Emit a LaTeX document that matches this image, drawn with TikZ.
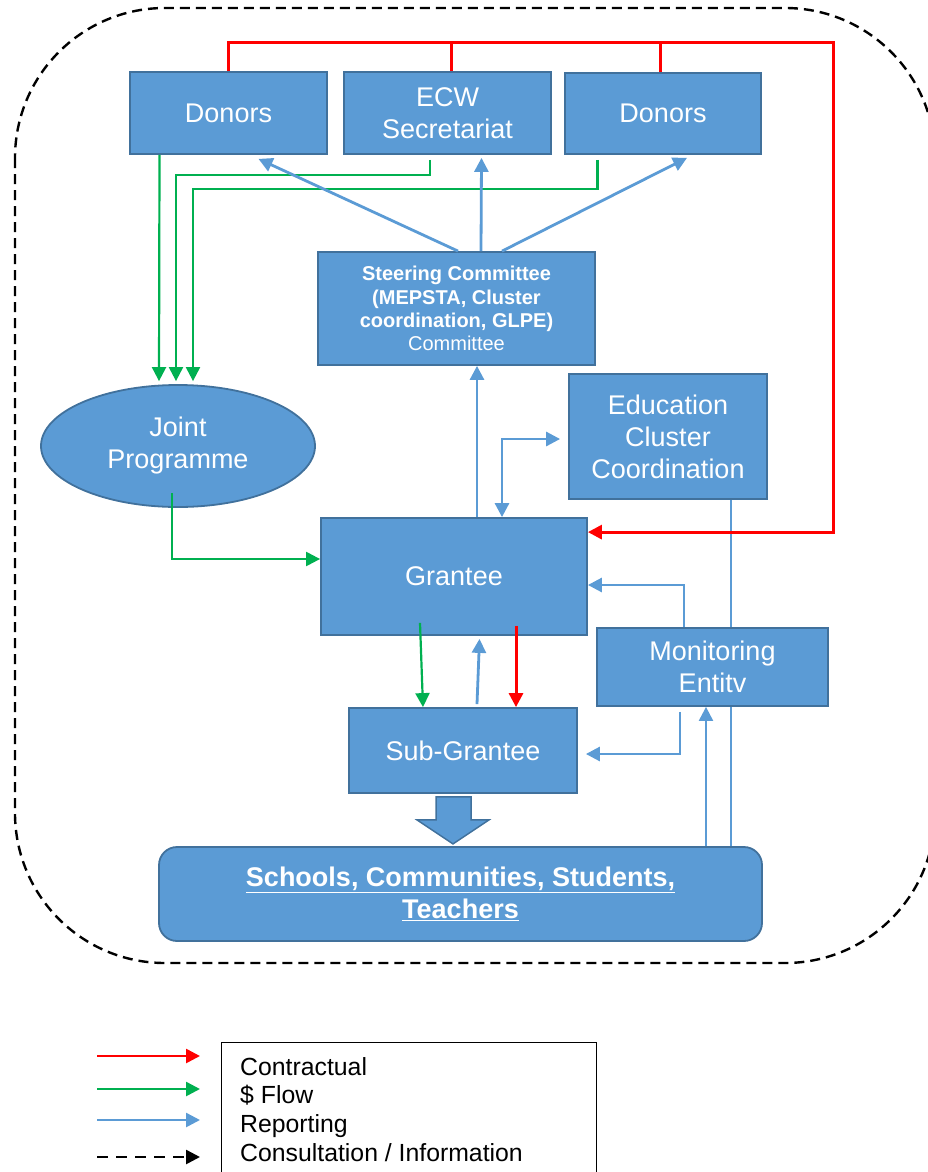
\documentclass[tikz,border=0pt]{standalone}
\usepackage{fontspec}
\setmainfont{Liberation Sans}
\usetikzlibrary{arrows.meta,calc,shapes.geometric,backgrounds}
\definecolor{boxfill}{HTML}{5B9BD5}
\definecolor{boxline}{HTML}{41719C}
\definecolor{rep}{HTML}{5B9BD5}
\definecolor{contr}{HTML}{FF0000}
\definecolor{money}{HTML}{00B050}
\newcommand\mainf{\fontsize{27}{32}\selectfont}
\newcommand\smallf{\fontsize{20}{23.3}\selectfont}
\newcommand\legf{\fontsize{24.8}{29}\selectfont}
\begin{document}
\begin{tikzpicture}[x=1pt,y=-1pt,
  box/.style={draw=boxline, line width=1.8pt, fill=boxfill, text=white, inner sep=0pt, align=center, font=\mainf},
  contract/.style={draw=contr, line width=3pt},
  money/.style={draw=money, line width=2.2pt},
  report/.style={draw=rep, line width=2.8pt},
  arr/.style={-{Triangle[length=14pt,width=14pt]}},
  arrboth/.style={{Triangle[length=14pt,width=14pt]}-{Triangle[length=14pt,width=14pt]}},
  legtext/.style={anchor=base west, inner sep=0pt, font=\legf}
]
\useasboundingbox (0,0) rectangle (928,1172);

% dashed outer border
\draw[black, line width=2.4pt, dash pattern=on 10pt off 6pt, rounded corners=150pt] (15,8) rectangle (935,963);

% nodes
\node[box, minimum width=197pt, minimum height=82pt] (d1) at (228.5,113) {Donors};
\node[box, minimum width=207pt, minimum height=82pt] (ecw) at (447.5,113) {ECW\\Secretariat};
\node[box, minimum width=196pt, minimum height=81pt] (d2) at (663,113.5) {Donors};
\node[box, minimum width=277pt, minimum height=113pt, font=\smallf] (sc) at (456.5,308.5)
  {\textbf{Steering Committee}\\\textbf{(MEPSTA, Cluster}\\\textbf{coordination, GLPE)}\\Committee};
\node[box, ellipse, minimum width=274pt, minimum height=122pt] (jp) at (178,446) {Joint\\Programme};
\node[box, minimum width=198pt, minimum height=125pt] (edu) at (668,436.5) {Education\\Cluster\\Coordination};
\node[box, minimum width=266pt, minimum height=117pt] (gr) at (454,576.5) {Grantee};
\node[box, minimum width=228pt, minimum height=85pt] (sub) at (463,750.5) {Sub-Grantee};
\node[box, minimum width=231pt, minimum height=78pt] (mon) at (712.5,667) {Monitoring\\Entitv};
\node[box, minimum width=603pt, minimum height=94pt, rounded corners=18pt, font=\mainf\bfseries] (sch) at (460.5,894)
  {\underline{Schools, Communities, Students,}\\\underline{Teachers}};

% line behind monitoring box
\begin{pgfonlayer}{background}
\draw[report, line width=2.2pt] ($(edu.south)+(63,0)$) -- ($(sch.north)+(270.5,0)$);
\end{pgfonlayer}

% contractual (red)
\coordinate (rtop) at (833,43);
\draw[contract, arr] (d1.north) |- (rtop) |- ($(gr.north east)+(0,15)$);
\draw[contract] ($(ecw.north)+(4,0)$) -- ($(ecw.north |- rtop)+(4,0)$);
\draw[contract] ($(d2.north)+(-3,0)$) -- ($(d2.north |- rtop)+(-3,0)$);
\draw[contract, arr] ($(gr.south)+(62,-10)$) -- ($(sub.north)+(53,0)$);

% money (green)
\draw[money, arr] ($(d1.south)+(-69,0)$) -- ($(jp.north)+(-19,-3)$);
\draw[money, arr] ($(ecw.south)+(-17.5,5)$) -- ++(0,15) -| ($(jp.north)+(-2,-3)$);
\draw[money, arr] ($(d2.south)+(-65.5,5)$) -- ++(0,29) -| ($(jp.north)+(15,-3)$);
\draw[money, arr] ($(jp.south)+(-6,-15)$) |- ($(gr.west)+(0,-17.5)$);
\draw[money, arr] ($(gr.south)+(-34,-13)$) -- ($(sub.north)+(-40,0)$);

% reporting (blue)
\draw[report, arr] ($(sc.north)+(1.5,0)$) -- ($(d1.south)+(30,4)$);
\draw[report, arr] ($(sc.north)+(24.5,0)$) -- ($(ecw.south)+(34,3)$);
\draw[report, arr] ($(sc.north)+(45.5,0)$) -- ($(d2.south)+(24,3)$);
\draw[report, arr] ($(gr.north)+(23,0)$) -- ($(sc.south)+(20.5,0)$);
\draw[report, arrboth] ($(gr.north)+(48,0)$) |- ($(edu.west)+(-8,2.5)$);
\draw[report, arr] ($(mon.north)+(-28.5,0)$) |- ($(gr.east)+(0,8.5)$);
\draw[report, line width=2.2pt, arr] ($(sch.north)+(245.5,0)$) -- ($(mon.south)+(-6.5,0)$);
\draw[report, arr] ($(mon.south)+(-32.5,5)$) |- ($(sub.east)+(8,3.5)$);
\draw[report, arr] ($(sub.north)+(14,-3)$) -- ($(gr.south)+(25.5,3)$);

% block arrow from Sub-Grantee to Schools
\filldraw[fill=boxfill, draw=boxline, line width=1.5pt]
  ($(sub.south)+(-27,3)$) -- ($(sub.south)+(8,3)$) -- ($(sub.south)+(8,26)$) -- ($(sub.south)+(26,26)$)
  -- ($(sub.south)+(-10,50)$) -- ($(sub.south)+(-46,26)$) -- ($(sub.south)+(-27,26)$) -- cycle;

% legend
\node[draw=black, line width=1.2pt, anchor=north west, minimum width=375pt, minimum height=140pt, inner sep=0pt] (legend) at (221,1042) {};
\coordinate (la1) at (97,1056); \coordinate (lb1) at (200,1056);
\coordinate (la2) at (97,1089); \coordinate (lb2) at (200,1089);
\coordinate (la3) at (97,1120); \coordinate (lb3) at (200,1120);
\coordinate (la4) at (97,1157); \coordinate (lb4) at (200,1157);
\draw[contract, line width=2.6pt, arr] (la1) -- (lb1);
\draw[money, line width=2.6pt, arr] (la2) -- (lb2);
\draw[report, line width=2.6pt, arr] (la3) -- (lb3);
\draw[black, line width=2.6pt, dash pattern=on 11pt off 8pt, arr] (la4) -- (lb4);
\node[legtext] (t1) at (240,1075) {Contractual};
\node[legtext] (t2) at (240,1103) {\$ Flow};
\node[legtext] (t3) at (240,1132) {Reporting};
\node[legtext] (t4) at (240,1161) {Consultation / Information};
\end{tikzpicture}
\end{document}
